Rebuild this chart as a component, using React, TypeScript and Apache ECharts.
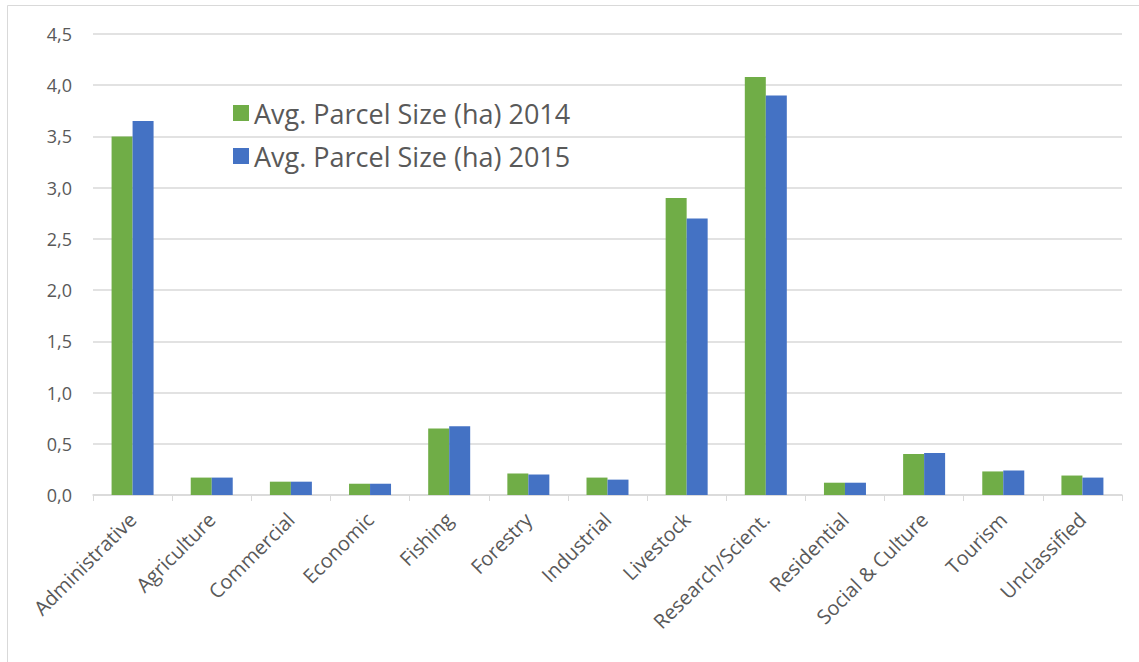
import React, { useEffect, useRef } from "react";
import * as echarts from "echarts";

const categories = [
  "Administrative", "Agriculture", "Commercial", "Economic", "Fishing", "Forestry",
  "Industrial", "Livestock", "Research/Scient.", "Residential", "Social & Culture",
  "Tourism", "Unclassified",
];
const values2014 = [3.5, 0.17, 0.13, 0.11, 0.65, 0.21, 0.17, 2.9, 4.08, 0.12, 0.4, 0.23, 0.19];
const values2015 = [3.65, 0.17, 0.13, 0.11, 0.67, 0.2, 0.15, 2.7, 3.9, 0.12, 0.41, 0.24, 0.17];
const seriesNames = ["Avg. Parcel Size (ha) 2014", "Avg. Parcel Size (ha) 2015"];
const colors = ["#70AD47", "#4472C4"];

export default function App() {
  const ref = useRef<HTMLDivElement>(null);
  useEffect(() => {
    document.body.style.margin = "0";
    const chart = echarts.init(ref.current!, null, { renderer: "svg" });
    const font = "Open Sans, Liberation Sans, sans-serif";
    chart.setOption({
      animation: false,
      backgroundColor: "#ffffff",
      textStyle: { fontFamily: font },
      graphic: [
        {
          type: "rect",
          shape: { x: 7.5, y: 5.5, width: 1160, height: 700 },
          style: { fill: "none", stroke: "#d9d9d9", lineWidth: 1 },
          silent: true,
        },
      ],
      legend: {
        orient: "vertical",
        left: 228,
        top: 90,
        itemWidth: 16,
        itemHeight: 16,
        itemGap: 7,
        icon: "rect",
        textStyle: { fontSize: 27, lineHeight: 36, color: "#595959", fontFamily: font },
        data: seriesNames,
      },
      grid: { left: 93, right: 17, top: 34, bottom: 167 },
      xAxis: {
        type: "category",
        data: categories,
        axisLine: { lineStyle: { color: "#d9d9d9", width: 1.5 } },
        axisTick: { show: true, length: 6, lineStyle: { color: "#d9d9d9" } },
        axisLabel: {
          rotate: 45,
          interval: 0,
          fontSize: 20,
          color: "#595959",
          margin: 21,
          fontFamily: font,
        },
      },
      yAxis: {
        type: "value",
        min: 0,
        max: 4.5,
        interval: 0.5,
        axisLine: { show: false },
        axisTick: { show: false },
        splitLine: { lineStyle: { color: "#d9d9d9", width: 1.5 } },
        axisLabel: {
          fontSize: 18,
          color: "#595959",
          margin: 21,
          fontFamily: font,
          formatter: (v: number) => v.toFixed(1).replace(".", ","),
        },
      },
      series: [
        {
          name: seriesNames[0],
          type: "bar",
          data: values2014,
          barWidth: 21,
          barGap: "0%",
          itemStyle: { color: colors[0] },
        },
        {
          name: seriesNames[1],
          type: "bar",
          data: values2015,
          barWidth: 21,
          barGap: "0%",
          itemStyle: { color: colors[1] },
        },
      ],
    });
    return () => chart.dispose();
  }, []);
  return <div ref={ref} style={{ width: 1139, height: 662 }} />;
}
